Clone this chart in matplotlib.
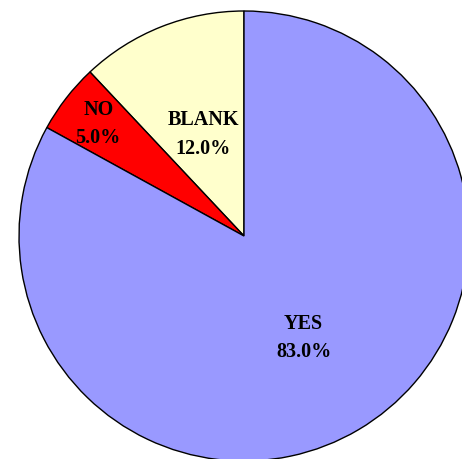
import matplotlib
matplotlib.use("Agg")
import matplotlib.pyplot as plt
import numpy as np

categories = ["BLANK", "NO", "YES"]
values = [12.0, 5.0, 83.0]
colors = ["#FFFFCC", "#FF0000", "#9999FF"]
label_radii = [0.49, 0.82, 0.52]

W, H = 462, 460
cx, cy, r = 244, 237, 225

fig = plt.figure(figsize=(W / 100, H / 100), dpi=100)
ax = fig.add_axes([0, 0, 1, 1])
wedges, _ = ax.pie(values, colors=colors, startangle=90, counterclock=True,
                   wedgeprops=dict(edgecolor="black", linewidth=1.0))
ax.set_aspect("auto")
ax.set_xlim(-cx / r, (W - cx) / r)
ax.set_ylim(-(H - cy) / r, cy / r)
ax.axis("off")

for w, cat, v, d in zip(wedges, categories, values, label_radii):
    ang = np.deg2rad((w.theta1 + w.theta2) / 2)
    ax.text(d * np.cos(ang), d * np.sin(ang), f"{cat}\n{v:.1f}%",
            ha="center", va="center", fontsize=14.5, fontweight="bold",
            family="Liberation Serif", linespacing=1.55)

fig.savefig("out.png", dpi=100)
